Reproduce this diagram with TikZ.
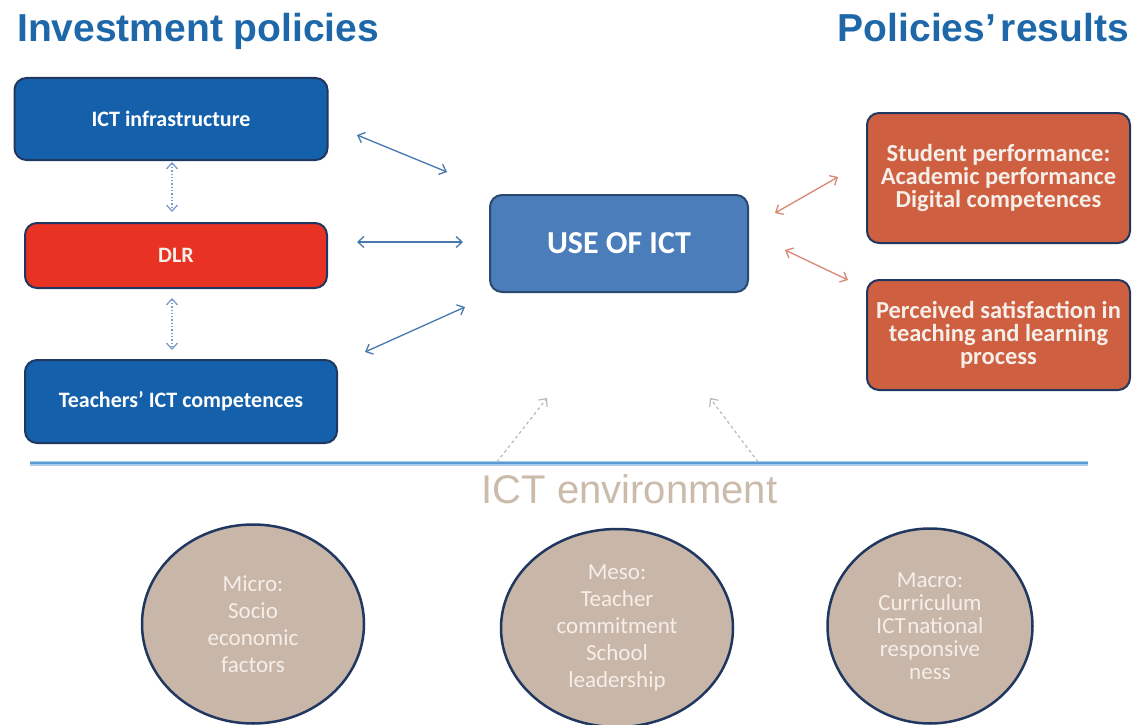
\documentclass[tikz,border=0pt]{standalone}
\usepackage{fontspec}
\setmainfont{Carlito}
\newfontfamily\arialf{Liberation Sans}
\usetikzlibrary{arrows.meta,shapes.geometric}
\definecolor{titleblue}{RGB}{30,104,170}
\definecolor{boxblue}{RGB}{21,96,170}
\definecolor{navy}{RGB}{32,56,96}
\definecolor{dlrred}{RGB}{232,50,35}
\definecolor{useblue}{RGB}{74,125,186}
\definecolor{useborder}{RGB}{42,72,112}
\definecolor{resorange}{RGB}{207,95,65}
\definecolor{circtan}{RGB}{200,182,168}
\definecolor{envtan}{RGB}{202,187,170}
\definecolor{arrblue}{RGB}{70,120,175}
\definecolor{arrorange}{RGB}{215,135,115}
\definecolor{dotblue}{RGB}{125,155,205}
\definecolor{graydash}{RGB}{185,185,185}
\definecolor{lineblue}{RGB}{91,155,213}
\definecolor{lineglow}{RGB}{170,205,235}
\definecolor{offwhite}{RGB}{246,238,232}
\begin{document}
\begin{tikzpicture}[x=1pt,y=-1pt,
  title/.style={font=\arialf\bfseries\fontsize{39}{41}\selectfont, text=titleblue, inner sep=0pt},
  box/.style={rectangle, rounded corners=12pt, draw=navy, line width=2pt, inner sep=0pt,
    text=white, align=center, font=\bfseries\fontsize{22}{26}\selectfont},
  resbox/.style={box, fill=resorange, text=offwhite, font=\bfseries\fontsize{24.5}{23}\selectfont,
    minimum width=263pt},
  circ/.style={ellipse, draw=navy, line width=2.5pt, fill=circtan, inner sep=0pt, align=center,
    text=offwhite, font=\fontsize{23}{27}\selectfont},
  tipb/.style={arrows={Straight Barb[length=6pt,width=11pt]-Straight Barb[length=6pt,width=11pt]}},
  arr/.style={draw=arrblue, line width=1.3pt, tipb},
  oarr/.style={draw=arrorange, line width=1.3pt, tipb},
  darr/.style={draw=dotblue, line width=1.3pt, dotted, tipb},
  garr/.style={draw=graydash, line width=1.2pt, dashed, -{Straight Barb[length=6pt,width=11pt]}}
]
\useasboundingbox[fill=white] (0,0) rectangle (1136,725);

% titles
\node[title, anchor=base west] (tleft) at (17,42) {Investment policies};
\node[title, anchor=base east] (tright) at (1129,42) {Policies’\hspace{-6pt} results};

% left boxes
\node[box, fill=boxblue, minimum width=313pt, minimum height=82pt] (infra) at (171,119) {ICT infrastructure};
\node[box, fill=dlrred, text=offwhite, minimum width=302pt, minimum height=65pt] (dlr) at (176,255.5) {DLR};
\node[box, fill=boxblue, minimum width=312pt, minimum height=83pt] (teach) at (181,401.5) {Teachers’ ICT competences};

% centre box
\node[box, fill=useblue, draw=useborder, minimum width=258pt, minimum height=97pt,
  font=\bfseries\fontsize{32}{36}\selectfont] (use) at (619,243.5) {USE OF ICT};

% right boxes
\node[resbox, minimum height=130pt] (student) at (998.5,178) {Student performance:\\Academic performance\\Digital competences};
\node[resbox, minimum height=110pt] (perc) at (998.5,335) {Perceived satisfaction in\\teaching and learning\\process};

% separator line
\coordinate (hl) at (30,463);
\coordinate (hr) at (1088,463);
\draw[lineglow, line width=5pt] (hl) -- (hr);
\draw[lineblue, line width=2.5pt] (hl) -- (hr);

% ICT environment
\node[font=\arialf\fontsize{40}{42}\selectfont, text=envtan, inner sep=0pt, anchor=base] (env) at (629.5,503) {ICT environment};

% circles
\node[circ, minimum width=222pt, minimum height=199pt] (micro) at (253,624) {Micro:\\Socio\\economic\\factors};
\node[circ, minimum width=232pt, minimum height=198pt] (meso) at (617,628) {Meso:\\Teacher\\commitment\\School\\leadership};
\node[circ, minimum width=205pt, minimum height=195pt, font=\fontsize{23}{23}\selectfont] (macro) at (930,626) {Macro:\\Curriculum\\ICT\hspace{1.5pt}national\\responsive\\ness};

% arrow end points
\coordinate (a1s) at (357,135); \coordinate (a1e) at (447,172);
\coordinate (a2s) at (357,242); \coordinate (a2e) at (463,242);
\coordinate (a3s) at (365,352); \coordinate (a3e) at (465,307);
\coordinate (o1s) at (775,213); \coordinate (o1e) at (838,177);
\coordinate (o2s) at (785,250); \coordinate (o2e) at (848,280);
\coordinate (d1s) at (172,162); \coordinate (d1e) at (172,212);
\coordinate (d2s) at (172,298); \coordinate (d2e) at (172,350);
\coordinate (g1s) at (497,462); \coordinate (g1e) at (547,398);
\coordinate (g2s) at (758,462); \coordinate (g2e) at (710,398);

\draw[arr] (a1s) -- (a1e);
\draw[arr] (a2s) -- (a2e);
\draw[arr] (a3s) -- (a3e);
\draw[oarr] (o1s) -- (o1e);
\draw[oarr] (o2s) -- (o2e);
\draw[darr] (d1s) -- (d1e);
\draw[darr] (d2s) -- (d2e);
\draw[garr] (g1s) -- (g1e);
\draw[garr] (g2s) -- (g2e);
\end{tikzpicture}
\end{document}
